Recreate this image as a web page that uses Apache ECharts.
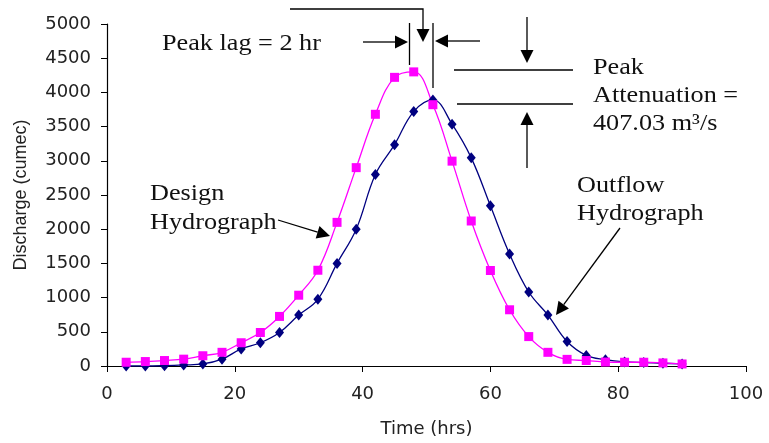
<!DOCTYPE html>
<html>
<head>
<meta charset="utf-8">
<style>
  html, body { margin: 0; padding: 0; background: #fff; }
  #main { width: 769px; height: 443px; }
</style>
<script src="https://cdn.jsdelivr.net/npm/echarts@6/dist/echarts.min.js"></script>
</head>
<body>
<div id="main"></div>
<script>
var myChart = echarts.init(document.getElementById("main"));

// time (hrs) of each ordinate
var time = [3, 6, 9, 12, 15, 18, 21, 24, 27, 30, 33, 36, 39, 42, 45,
            48, 51, 54, 57, 60, 63, 66, 69, 72, 75, 78, 81, 84, 87, 90];
// design (inflow) hydrograph, cumec
var design = [55, 65, 80, 100, 150, 200, 340, 490, 725, 1035, 1400, 2100, 2900, 3680, 4220,
              4300, 3820, 2995, 2120, 1396, 822, 430, 200, 97, 80, 58, 55, 55, 45, 30];
// outflow hydrograph, cumec
var outflow = [0, 0, 5, 15, 30, 100, 250, 340, 490, 745, 975, 1500, 2000, 2800, 3236,
               3720, 3890, 3536, 3043, 2343, 1638, 1082, 745, 358, 155, 92, 60, 50, 40, 30];

function pairs(xs, ys) {
    return xs.map(function (x, i) { return [x, ys[i]]; });
}

// annotation helpers (pixel space)
function arrow(x1, y1, x2, y2) {
    var len = 13, half = 6.5;
    var a = Math.atan2(y2 - y1, x2 - x1);
    var bx = x2 - len * Math.cos(a), by = y2 - len * Math.sin(a);
    var px = -Math.sin(a) * half, py = Math.cos(a) * half;
    return [{
        type: 'line',
        shape: { x1: x1, y1: y1, x2: bx, y2: by },
        style: { stroke: '#000', lineWidth: 1.3 }
    }, {
        type: 'polygon',
        shape: { points: [[x2, y2], [bx + px, by + py], [bx - px, by - py]] },
        style: { fill: '#000' }
    }];
}
function seg(x1, y1, x2, y2) {
    return {
        type: 'line',
        shape: { x1: x1, y1: y1, x2: x2, y2: y2 },
        style: { stroke: '#000', lineWidth: 1.3 }
    };
}
function label(x, y, text) {
    return {
        type: 'text',
        x: x, y: y,
        scaleX: 1.14,
        style: {
            text: text,
            fontFamily: '"Liberation Serif", "Times New Roman", serif',
            fontSize: 23,
            lineHeight: 28,
            fill: '#111',
            verticalAlign: 'middle'
        }
    };
}

var notes = [].concat(
    [{ type: 'polyline', shape: { points: [[290, 9], [423, 9], [423, 32]] },
       style: { stroke: '#000', lineWidth: 1.3, fill: null } }],
    arrow(423, 30, 423, 42),
    arrow(363, 42, 408, 42),
    arrow(480, 41, 435, 41),
    [seg(409.5, 23, 409.5, 65), seg(433, 23, 433, 88)],
    arrow(527, 17, 527, 63),
    [seg(454, 70, 573, 70), seg(457, 104, 573, 104)],
    arrow(527, 168, 527, 112),
    arrow(278, 220, 330, 236),
    arrow(620, 228, 556, 315),
    [
        label(162, 44, 'Peak lag = 2 hr'),
        label(593, 68, 'Peak'),
        label(593, 96, 'Attenuation ='),
        label(593, 124, '407.03 m\u00b3/s'),
        label(150, 194, 'Design'),
        label(150, 223, 'Hydrograph'),
        label(577, 186, 'Outflow'),
        label(577, 214, 'Hydrograph')
    ]
);

var axisText = { color: '#222', fontFamily: '"DejaVu Sans", sans-serif', fontSize: 18 };

var option = {
    animation: false,
    backgroundColor: '#fff',
    grid: { left: 107, right: 23, top: 24, bottom: 74 },
    xAxis: {
        type: 'value',
        min: 0, max: 100, interval: 20,
        name: 'Time (hrs)',
        nameLocation: 'middle',
        nameGap: 54,
        nameTextStyle: axisText,
        axisLine: { show: true, lineStyle: { color: '#000', width: 1.2 } },
        axisTick: { show: true, length: 6, lineStyle: { color: '#000' } },
        axisLabel: Object.assign({ margin: 19, formatter: function (v) { return String(v); } }, axisText),
        splitLine: { show: false }
    },
    yAxis: {
        type: 'value',
        min: 0, max: 5000, interval: 500,
        name: 'Discharge (cumec)',
        nameLocation: 'middle',
        nameGap: 77,
        nameTextStyle: { color: '#222', fontFamily: '"Liberation Sans", Arial, sans-serif', fontSize: 18 },
        axisLine: { show: true, lineStyle: { color: '#000', width: 1.2 } },
        axisTick: { show: true, length: 6, lineStyle: { color: '#000' } },
        axisLabel: Object.assign({ margin: 16, formatter: function (v) { return String(v); } }, axisText),
        splitLine: { show: false }
    },
    series: [{
        name: 'Outflow Hydrograph',
        type: 'line',
        smooth: 0.4,
        symbol: 'diamond',
        symbolSize: [9, 11],
        lineStyle: { color: '#000080', width: 1.3 },
        itemStyle: { color: '#000080' },
        data: pairs(time, outflow)
    }, {
        name: 'Design Hydrograph',
        type: 'line',
        smooth: 0.4,
        symbol: 'rect',
        symbolSize: 9,
        lineStyle: { color: '#ff00ff', width: 1.3 },
        itemStyle: { color: '#ff00ff' },
        data: pairs(time, design)
    }],
    graphic: notes
};
myChart.setOption(option);
</script>
</body>
</html>
